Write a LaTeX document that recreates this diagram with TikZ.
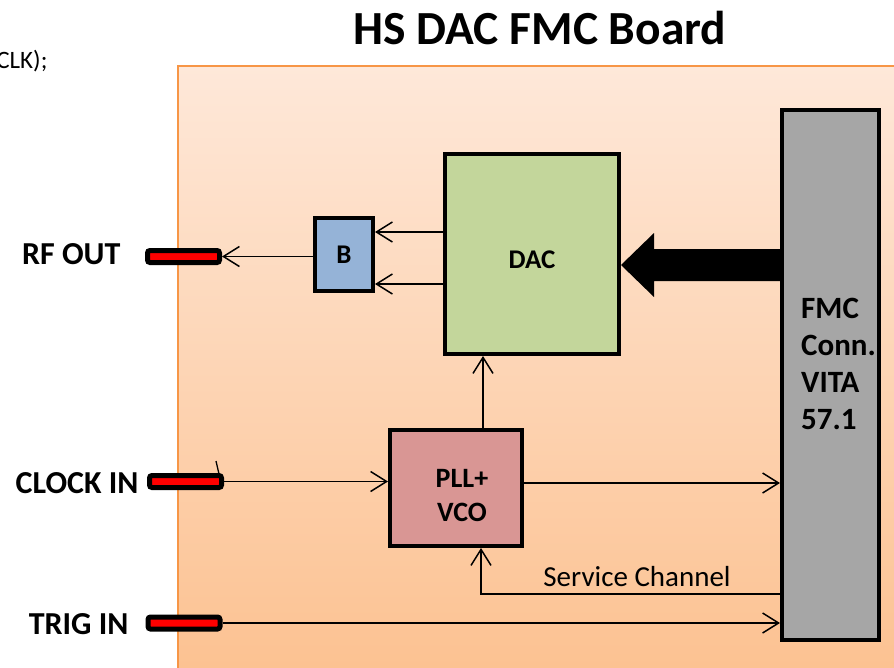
\documentclass[tikz,border=0pt]{standalone}
\usepackage{fontspec}
\setmainfont{Carlito}
\usetikzlibrary{arrows.meta}
\definecolor{boardtop}{HTML}{FEE8D9}
\definecolor{boardbot}{HTML}{FCC08E}
\definecolor{boardedge}{HTML}{F79646}
\definecolor{dacgreen}{HTML}{C3D69B}
\definecolor{bblue}{HTML}{95B3D7}
\definecolor{pllpink}{HTML}{D99694}
\definecolor{fmcgray}{HTML}{A6A6A6}
\tikzset{
  box/.style={draw=black, line width=4pt, inner sep=0pt, font=\bfseries\fontsize{27}{30}\selectfont},
  conn/.style={draw=black, fill=red, line width=5pt, rounded corners=2.5pt, minimum width=72pt, minimum height=12pt, inner sep=0pt},
  portlabel/.style={anchor=east, font=\bfseries\fontsize{32}{36}\selectfont},
  arr/.style={line width=1.5pt, -{Straight Barb[length=16pt,width=20pt,line width=1.5pt]}},
  wire/.style={line width=1.5pt}
}
\begin{document}
\begin{tikzpicture}[x=1pt,y=-1pt]
\clip (0,0) rectangle (894,667);
% board
\shade[top color=boardtop, bottom color=boardbot] (178,66) rectangle (920,700);
\draw[boardedge, line width=2.5pt] (178,700) -- (178,66) -- (920,66);
% title and stray text
\node[font=\bfseries\fontsize{47.5}{50}\selectfont] (title) at (540,28) {HS DAC FMC Board};
\node[anchor=east, font=\fontsize{25}{28}\selectfont] (clk) at (51,61) {CLK);};
% blocks
\node[box, fill=dacgreen, minimum width=174pt, minimum height=200pt] (dac) at (532,254) {};
\node[font=\bfseries\fontsize{27}{30}\selectfont] (dactext) at (532,260) {DAC};
\node[box, fill=bblue, minimum width=58pt, minimum height=73pt] (b) at (344,254.5) {B};
\node[box, fill=pllpink, minimum width=132pt, minimum height=116pt] (pll) at (456,488) {};
\node[align=center, font=\bfseries\fontsize{28}{34}\selectfont] (plltext) at (462,496) {PLL+\\VCO};
\node[box, fill=fmcgray, minimum width=97pt, minimum height=530pt] (fmc) at (830.5,375) {};
\node[anchor=west, align=left, inner sep=0pt, font=\bfseries\fontsize{31}{37}\selectfont] (fmctext) at (801,364) {FMC\\Conn.\\VITA\\57.1};
% connectors
\node[conn] (rf) at (183.5,256.5) {};
\node[conn] (clkin) at (185.5,481.5) {};
\node[conn] (trig) at (184,623) {};
\node[portlabel] (rflabel) at (124,254) {RF OUT};
\node[portlabel] (clklabel) at (142,483) {CLOCK IN};
\node[portlabel] (triglabel) at (132,624) {TRIG IN};
% small stroke on clock connector
\draw[line width=1.3pt] (216,461) -- (219,474);
% arrows
\draw[arr] (b.west |- rf.east) -- (rf.east);
\draw[arr] (dac.west |- 0,232) -- (b.east |- 0,232);
\draw[arr] (dac.west |- 0,284) -- (b.east |- 0,284);
\fill[black] (fmc.west |- 0,249) -- (654,249) -- (654,233) -- (dac.east |- 0,265) -- (654,297) -- (654,281) -- (fmc.west |- 0,281) -- cycle;
\draw[arr] (pll.north -| 483,0) -- (dac.south -| 483,0);
\draw[arr] (clkin.east) -- (clkin.east -| pll.west);
\draw[arr] (pll.east |- 0,483) -- (fmc.west |- 0,483);
\draw[arr] (fmc.west |- 0,594) -| (pll.south -| 481,0);
\node[font=\fontsize{29}{32}\selectfont] (svc) at (637,577) {Service Channel};
\draw[arr] (trig.east) -- (trig.east -| fmc.west);
\end{tikzpicture}
\end{document}
